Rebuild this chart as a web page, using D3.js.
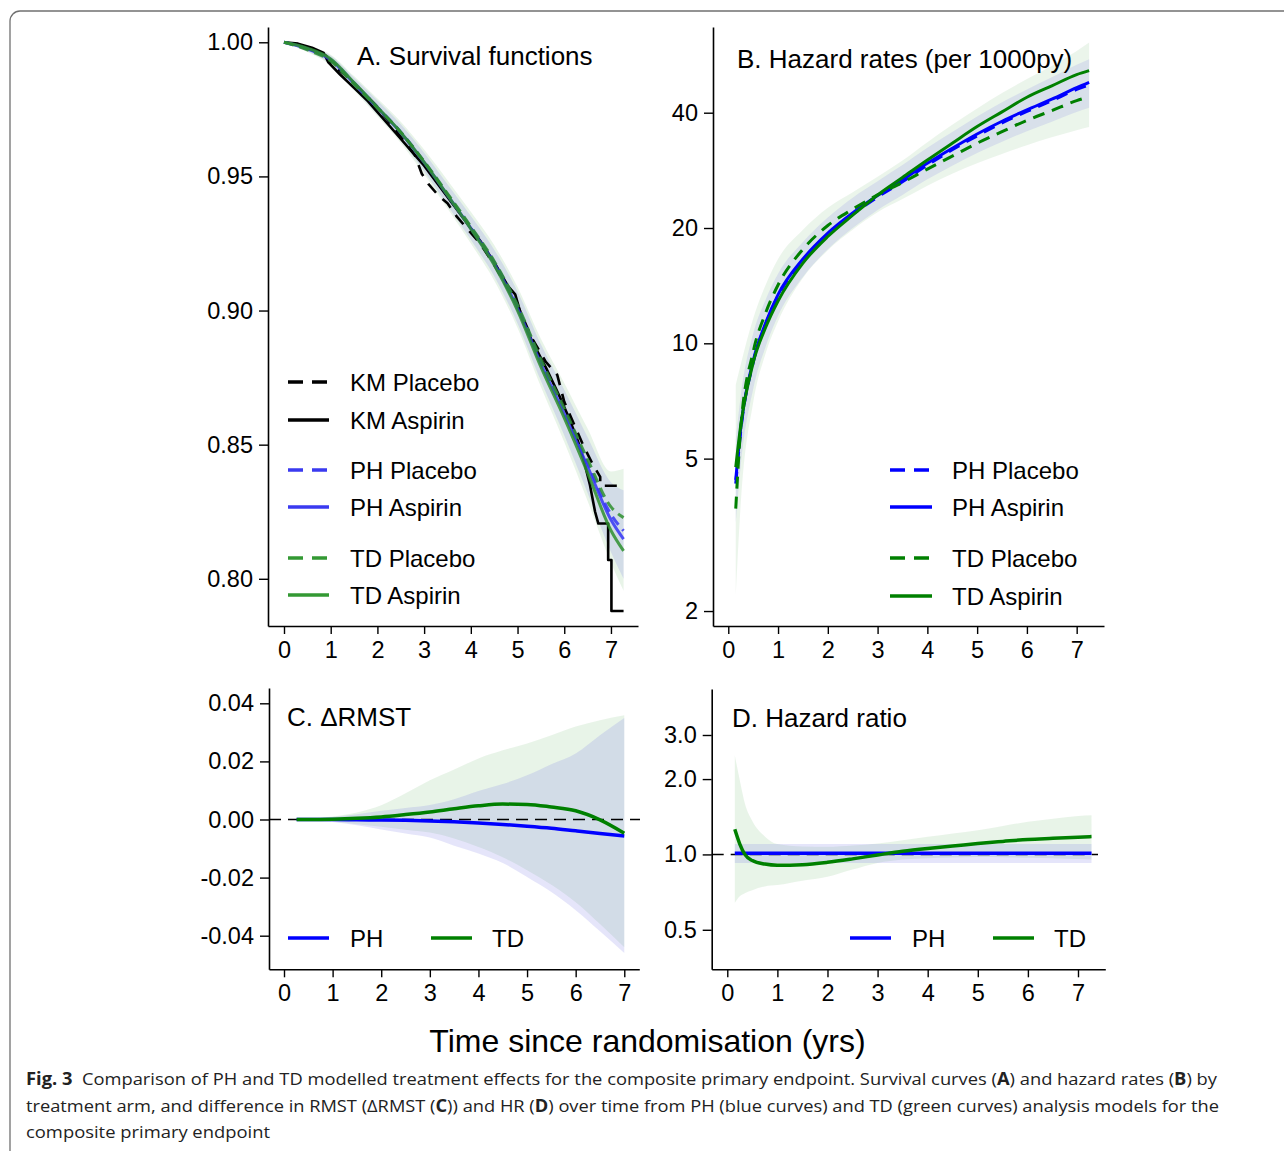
<!DOCTYPE html>
<html>
<head>
<meta charset="utf-8">
<script src="https://cdn.jsdelivr.net/npm/d3@7"></script>
<style>
  body { margin: 0; background: #fff; }
</style>
</head>
<body>
<script>
// ---- data ----

// A. survival functions (fitted), by treatment arm
var survT      = [0, 0.5, 1, 1.5, 2, 2.5, 3, 3.5, 4, 4.5, 5, 5.5, 6, 6.5, 7, 7.27];
var phPlacebo  = [1.000, 0.9975, 0.9935, 0.9848, 0.9758, 0.9665, 0.9555, 0.9433, 0.9310, 0.9180, 0.9015, 0.8810, 0.8625, 0.8430, 0.8240, 0.8179];
var phAspirin  = [1.000, 0.9975, 0.9934, 0.9846, 0.9756, 0.9663, 0.9552, 0.9430, 0.9306, 0.9175, 0.9008, 0.8802, 0.8615, 0.8418, 0.8220, 0.8148];
var tdPlacebo  = [1.000, 0.9972, 0.9930, 0.9843, 0.9755, 0.9665, 0.9556, 0.9436, 0.9313, 0.9184, 0.9020, 0.8818, 0.8635, 0.8445, 0.8268, 0.8228];
var tdAspirin  = [1.000, 0.9978, 0.9938, 0.9850, 0.9758, 0.9664, 0.9553, 0.9430, 0.9304, 0.9170, 0.9000, 0.8790, 0.8600, 0.8395, 0.8180, 0.8104];
var phSurvLo   = [1.000, 0.9967, 0.9919, 0.9826, 0.9731, 0.9634, 0.9519, 0.9392, 0.9264, 0.9128, 0.8952, 0.8738, 0.8535, 0.8320, 0.8100, 0.8000];
var phSurvHi   = [1.000, 0.9983, 0.9950, 0.9868, 0.9783, 0.9694, 0.9588, 0.9471, 0.9352, 0.9227, 0.9071, 0.8874, 0.8705, 0.8528, 0.8360, 0.8330];
var tdSurvLo   = [1.000, 0.9964, 0.9914, 0.9820, 0.9724, 0.9625, 0.9508, 0.9380, 0.9250, 0.9112, 0.8935, 0.8716, 0.8510, 0.8290, 0.8060, 0.7955];
var tdSurvHi   = [1.000, 0.9986, 0.9954, 0.9874, 0.9790, 0.9704, 0.9600, 0.9486, 0.9368, 0.9244, 0.9088, 0.8895, 0.8730, 0.8560, 0.8400, 0.8410];

// Kaplan-Meier curves (late steps kept as explicit corner points)
var kmPlaceboT = [0, 0.3, 0.6, 0.9, 1.0, 1.3, 1.6, 2.0, 2.4, 2.8, 2.95, 3.1, 3.3, 3.5, 3.7, 3.9, 4.2, 4.5, 4.8, 5.0, 5.3, 5.6, 5.85, 6.0, 6.2, 6.4, 6.6, 6.77, 6.77, 7.27];
var kmPlaceboS = [1.0, 0.999, 0.997, 0.995, 0.992, 0.988, 0.983, 0.976, 0.967, 0.958, 0.951, 0.947, 0.943, 0.940, 0.935, 0.931, 0.925, 0.917, 0.908, 0.902, 0.890, 0.881, 0.876, 0.866, 0.858, 0.850, 0.843, 0.838, 0.8347, 0.8347];
var kmAspirinT = [0, 0.3, 0.6, 0.85, 0.95, 1.2, 1.5, 1.8, 2.1, 2.4, 2.7, 3.0, 3.3, 3.6, 3.9, 4.2, 4.5, 4.8, 4.95, 5.1, 5.3, 5.6, 5.9, 6.1, 6.3, 6.45, 6.55, 6.66, 6.73, 6.94, 6.94, 7.01, 7.01, 7.27];
var kmAspirinS = [1.0, 0.9995, 0.998, 0.996, 0.9925, 0.988, 0.983, 0.978, 0.972, 0.966, 0.960, 0.954, 0.947, 0.940, 0.933, 0.926, 0.918, 0.909, 0.906, 0.897, 0.889, 0.879, 0.868, 0.860, 0.851, 0.842, 0.835, 0.825, 0.8206, 0.8206, 0.807, 0.807, 0.788, 0.788];

// B. hazard rates per 1000 person-years
var hazT        = [0.15, 0.25, 0.5, 0.75, 1, 1.5, 2, 2.5, 3, 3.5, 4, 4.5, 5, 5.5, 6, 6.5, 7, 7.25];
var phPlaceboH  = [4.3, 5.9, 8.9, 11.2, 13.3, 16.4, 19.2, 21.7, 24.1, 26.4, 29.2, 32.0, 34.8, 37.6, 40.3, 43.0, 46.0, 47.3];
var phAspirinH  = [4.4, 6.0, 9.0, 11.3, 13.4, 16.6, 19.4, 21.9, 24.3, 26.7, 29.5, 32.3, 35.2, 38.0, 40.7, 43.4, 46.5, 48.0];
var tdPlaceboH  = [3.7, 6.0, 9.5, 12.0, 14.2, 17.6, 20.3, 22.4, 24.4, 26.3, 28.5, 30.8, 33.3, 35.7, 38.2, 40.5, 43.0, 44.0];
var tdAspirinH  = [4.75, 6.1, 8.9, 11.0, 12.9, 16.2, 19.0, 21.6, 24.4, 27.1, 30.1, 33.3, 36.8, 40.2, 43.9, 47.0, 50.3, 51.5];
var phHazLo     = [3.4, 4.8, 7.6, 9.8, 11.8, 14.9, 17.6, 20.0, 22.3, 24.4, 26.8, 29.1, 31.4, 33.6, 35.8, 37.9, 40.2, 41.2];
var phHazHi     = [5.6, 7.3, 10.6, 13.0, 15.2, 18.4, 21.3, 24.0, 26.5, 29.2, 32.4, 35.6, 39.1, 42.6, 46.0, 49.5, 53.4, 55.2];
var tdHazLo     = [2.2, 3.8, 7.0, 9.4, 11.4, 14.8, 17.5, 19.8, 22.0, 23.8, 25.8, 27.7, 29.5, 31.2, 32.9, 34.5, 36.0, 36.7];
var tdHazHi     = [7.8, 8.8, 11.6, 14.2, 16.6, 19.8, 22.6, 24.8, 27.2, 30.0, 33.5, 37.2, 41.0, 45.0, 49.0, 53.0, 58.0, 61.0];

// C. difference in RMST
var rmstT     = [0.26, 0.5, 1, 1.5, 2, 2.5, 3, 3.5, 4, 4.5, 5, 5.5, 6, 6.5, 7];
var phRmst    = [0, 0, 0, -0.0001, -0.0002, -0.0003, -0.0005, -0.0008, -0.0012, -0.0017, -0.0023, -0.0030, -0.0039, -0.0048, -0.0057];
var tdRmst    = [0, 0, 0.0001, 0.0004, 0.0009, 0.0017, 0.0026, 0.0037, 0.0047, 0.0053, 0.0052, 0.0043, 0.0030, -0.0001, -0.0047];
var phRmstLo  = [0, -0.0003, -0.0009, -0.0020, -0.0034, -0.0048, -0.0062, -0.0090, -0.0117, -0.0150, -0.0198, -0.0250, -0.0312, -0.0385, -0.0460];
var phRmstHi  = [0, 0.0003, 0.0009, 0.0018, 0.0030, 0.0040, 0.0050, 0.0070, 0.0098, 0.0122, 0.0152, 0.0190, 0.0227, 0.0290, 0.0349];
var tdRmstLo  = [0, -0.0003, -0.0008, -0.0016, -0.0025, -0.0035, -0.0045, -0.0065, -0.0095, -0.0130, -0.0175, -0.0225, -0.0285, -0.0360, -0.0440];
var tdRmstHi  = [0, 0.0003, 0.0010, 0.0024, 0.0049, 0.0090, 0.0135, 0.0172, 0.0210, 0.0238, 0.0262, 0.0290, 0.0320, 0.0342, 0.0359];

// D. hazard ratio
var hrT       = [0.15, 0.25, 0.35, 0.5, 0.75, 1, 1.5, 2, 2.5, 3, 3.5, 4, 4.5, 5, 5.5, 6, 6.5, 7, 7.27];
var tdHr      = [1.26, 1.10, 1.00, 0.945, 0.915, 0.905, 0.91, 0.93, 0.96, 0.995, 1.03, 1.057, 1.08, 1.105, 1.127, 1.148, 1.16, 1.172, 1.178];
var tdHrLo    = [0.64, 0.68, 0.70, 0.72, 0.745, 0.754, 0.785, 0.814, 0.87, 0.925, 0.955, 0.966, 0.972, 0.977, 0.975, 0.97, 0.965, 0.958, 0.955];
var tdHrHi    = [2.49, 1.98, 1.60, 1.36, 1.18, 1.10, 1.075, 1.072, 1.085, 1.106, 1.14, 1.176, 1.213, 1.25, 1.30, 1.35, 1.39, 1.425, 1.435];
var phHrT     = [0.15, 7.27];
var phHr      = [1.01, 1.01];
var phHrLo    = [0.925, 0.925];
var phHrHi    = [1.10, 1.10];

var xTicks = [0, 1, 2, 3, 4, 5, 6, 7];
var FONT = "'Liberation Sans', Arial, sans-serif";
var BLUE = "#0000ff", GREEN = "#008000";
var GREEN_BAND = "rgba(0,128,0,0.09)", BLUE_BAND = "rgba(110,110,225,0.18)";

var svg = d3.select("body").append("svg")
    .attr("width", 1284)
    .attr("height", 1151);

// figure frame (rounded top-left corner, runs off the page)
svg.append("path")
    .attr("d", "M10,1165 V21 A10,10 0 0 1 20,11 H1295")
    .attr("fill", "none")
    .attr("stroke", "#707070")
    .attr("stroke-width", 1.3);

function panel(o) {
    var x = d3.scaleLinear().domain(o.xd).range([o.left, o.right]);
    var y = (o.log ? d3.scaleLog() : d3.scaleLinear()).domain(o.yd).range([o.bottom, o.top]);
    var g = svg.append("g");
    var marks = g.append("g");
    var xa = g.append("g")
        .attr("transform", "translate(0," + o.bottom + ")")
        .call(d3.axisBottom(x).tickValues(xTicks).tickFormat(d3.format("d"))
            .tickSize(8).tickSizeOuter(0).tickPadding(7));
    var ya = g.append("g")
        .attr("transform", "translate(" + o.left + ",0)")
        .call(d3.axisLeft(y).tickValues(o.yTicks).tickFormat(o.fmt)
            .tickSize(9).tickSizeOuter(0).tickPadding(6));
    [xa, ya].forEach(function (a) {
        a.attr("font-size", 23.5).attr("font-family", FONT).attr("color", "#000");
        a.select(".domain").attr("stroke-width", 1.6);
        a.selectAll(".tick line").attr("stroke-width", 1.4);
    });
    g.append("text")
        .attr("x", o.titleX)
        .attr("y", o.titleY)
        .attr("font-family", FONT)
        .attr("font-size", 26)
        .text(o.title);
    return {g: g, marks: marks, x: x, y: y};
}

function drawLine(p, ts, vs, color, width, dash, curve, opacity) {
    var pts = ts.map(function (t, i) { return [t, vs[i]]; });
    p.marks.append("path")
        .datum(pts)
        .attr("fill", "none")
        .attr("stroke", color)
        .attr("stroke-width", width)
        .attr("stroke-dasharray", dash || null)
        .attr("stroke-opacity", opacity || 1)
        .attr("stroke-linejoin", "round")
        .attr("d", d3.line()
            .x(function (d) { return p.x(d[0]); })
            .y(function (d) { return p.y(d[1]); })
            .curve(curve || d3.curveMonotoneX));
}

function drawBand(p, ts, lo, hi, fill) {
    var pts = ts.map(function (t, i) { return [t, lo[i], hi[i]]; });
    p.marks.append("path")
        .datum(pts)
        .attr("fill", fill)
        .attr("stroke", "none")
        .attr("d", d3.area()
            .x(function (d) { return p.x(d[0]); })
            .y0(function (d) { return p.y(d[1]); })
            .y1(function (d) { return p.y(d[2]); })
            .curve(d3.curveMonotoneX));
}

function legend(items, x1, x2, tx) {
    items.forEach(function (it) {
        svg.append("line")
            .attr("x1", x1).attr("x2", x2)
            .attr("y1", it.y).attr("y2", it.y)
            .attr("stroke", it.color)
            .attr("stroke-width", it.w || 3.5)
            .attr("stroke-dasharray", it.dash || null);
        svg.append("text")
            .attr("x", it.tx || tx)
            .attr("y", it.y + 8.5)
            .attr("font-family", FONT)
            .attr("font-size", 24)
            .text(it.label);
    });
}

// ---- A. Survival functions ----
var pA = panel({
    left: 268, right: 638, top: 27, bottom: 626,
    xd: [-0.3425, 7.579], yd: [0.7824, 1.0057],
    yTicks: [0.80, 0.85, 0.90, 0.95, 1.00], fmt: function (d) { return d.toFixed(2); },
    title: "A. Survival functions", titleX: 357, titleY: 65
});
drawBand(pA, survT, tdSurvLo, tdSurvHi, GREEN_BAND);
drawBand(pA, survT, phSurvLo, phSurvHi, BLUE_BAND);
drawLine(pA, kmPlaceboT, kmPlaceboS, "#000", 2.6, "12,9", d3.curveLinear);
drawLine(pA, kmAspirinT, kmAspirinS, "#000", 2.6, null, d3.curveLinear);
drawLine(pA, survT, phPlacebo, "#3535f5", 3, "10,6", null, 0.85);
drawLine(pA, survT, phAspirin, "#3535f5", 3, null, null, 0.85);
drawLine(pA, survT, tdPlacebo, "#2e8f2e", 3, "10,6", null, 0.85);
drawLine(pA, survT, tdAspirin, "#2e8f2e", 3, null, null, 0.85);

legend([
    {label: "KM Placebo", y: 382, color: "#000", dash: "15,9"},
    {label: "KM Aspirin", y: 420, color: "#000"},
    {label: "PH Placebo", y: 470, color: "#3a3af0", dash: "15,9"},
    {label: "PH Aspirin", y: 507, color: "#3a3af0"},
    {label: "TD Placebo", y: 558, color: "#339933", dash: "15,9"},
    {label: "TD Aspirin", y: 595, color: "#339933"}
], 288, 329, 350);

// ---- B. Hazard rates ----
var pB = panel({
    left: 713, right: 1104, top: 27, bottom: 626,
    xd: [-0.307, 7.549], yd: [1.828, 66.96], log: true,
    yTicks: [2, 5, 10, 20, 40], fmt: d3.format("d"),
    title: "B. Hazard rates (per 1000py)", titleX: 737, titleY: 68
});
drawBand(pB, hazT, tdHazLo, tdHazHi, "rgba(0,128,0,0.08)");
drawBand(pB, hazT, phHazLo, phHazHi, "rgba(110,110,225,0.15)");
drawLine(pB, hazT, phPlaceboH, BLUE, 3, "12,8");
drawLine(pB, hazT, phAspirinH, BLUE, 3);
drawLine(pB, hazT, tdPlaceboH, GREEN, 3, "12,8");
drawLine(pB, hazT, tdAspirinH, GREEN, 3);

legend([
    {label: "PH Placebo", y: 470, color: BLUE, dash: "15,9"},
    {label: "PH Aspirin", y: 507, color: BLUE},
    {label: "TD Placebo", y: 558, color: GREEN, dash: "15,9"},
    {label: "TD Aspirin", y: 596, color: GREEN}
], 890, 932, 952);

// ---- C. Delta RMST ----
var pC = panel({
    left: 269, right: 639.3, top: 688, bottom: 969.3,
    xd: [-0.3086, 7.309], yd: [-0.05157, 0.04527],
    yTicks: [-0.04, -0.02, 0, 0.02, 0.04], fmt: function (d) { return d.toFixed(2); },
    title: "C. \u0394RMST", titleX: 287, titleY: 726
});
drawBand(pC, rmstT, tdRmstLo, tdRmstHi, GREEN_BAND);
drawBand(pC, rmstT, phRmstLo, phRmstHi, BLUE_BAND);
pC.marks.append("line")
    .attr("x1", 269).attr("x2", 640)
    .attr("y1", pC.y(0)).attr("y2", pC.y(0))
    .attr("stroke", "#000").attr("stroke-width", 1.4)
    .attr("stroke-dasharray", "12,7");
drawLine(pC, rmstT, phRmst, BLUE, 3.5);
drawLine(pC, rmstT, tdRmst, GREEN, 3.5);

legend([
    {label: "PH", y: 938, color: BLUE}
], 288, 329, 350);
legend([
    {label: "TD", y: 938, color: GREEN}
], 431, 472, 492);

// ---- D. Hazard ratio ----
var pD = panel({
    left: 711.7, right: 1105.3, top: 689, bottom: 969.3,
    xd: [-0.311, 7.545], yd: [0.3476, 4.58], log: true,
    yTicks: [0.5, 1.0, 2.0, 3.0], fmt: d3.format(".1f"),
    title: "D. Hazard ratio", titleX: 732, titleY: 727
});
drawBand(pD, hrT, tdHrLo, tdHrHi, GREEN_BAND);
drawBand(pD, phHrT, phHrLo, phHrHi, BLUE_BAND);
pD.marks.append("line")
    .attr("x1", 711.7).attr("x2", 1098)
    .attr("y1", pD.y(1)).attr("y2", pD.y(1))
    .attr("stroke", "#000").attr("stroke-width", 1.4)
    .attr("stroke-dasharray", "12,7");
drawLine(pD, phHrT, phHr, BLUE, 3.5, null, d3.curveLinear);
drawLine(pD, hrT, tdHr, GREEN, 3.5);

legend([
    {label: "PH", y: 938, color: BLUE}
], 850, 891, 912);
legend([
    {label: "TD", y: 938, color: GREEN}
], 993, 1034, 1054);

// shared x-axis title
svg.append("text")
    .attr("x", 647.5)
    .attr("y", 1052)
    .attr("text-anchor", "middle")
    .attr("font-family", FONT)
    .attr("font-size", 32)
    .text("Time since randomisation (yrs)");

// caption
var CAP = "'Open Sans', 'Noto Sans', sans-serif";
var capLines = [
    {y: 1085, len: 1191, parts: [["Fig. 3", true], ["\u00a0\u00a0Comparison of PH and TD modelled treatment effects for the composite primary endpoint. Survival curves (", false], ["A", true], [") and hazard rates (", false], ["B", true], [") by", false]]},
    {y: 1111.5, len: 1193, parts: [["treatment arm, and difference in RMST (\u0394RMST (", false], ["C", true], [")) and HR (", false], ["D", true], [") over time from PH (blue curves) and TD (green curves) analysis models for the", false]]},
    {y: 1138, len: 244, parts: [["composite primary endpoint", false]]}
];
capLines.forEach(function (ln) {
    var t = svg.append("text")
        .attr("x", 26)
        .attr("y", ln.y)
        .attr("font-family", CAP)
        .attr("font-size", 17)
        .attr("fill", "#222")
        .attr("textLength", ln.len)
        .attr("lengthAdjust", "spacingAndGlyphs");
    ln.parts.forEach(function (p) {
        t.append("tspan")
            .attr("font-weight", p[1] ? "bold" : null)
            .text(p[0]);
    });
});
</script>
</body>
</html>
